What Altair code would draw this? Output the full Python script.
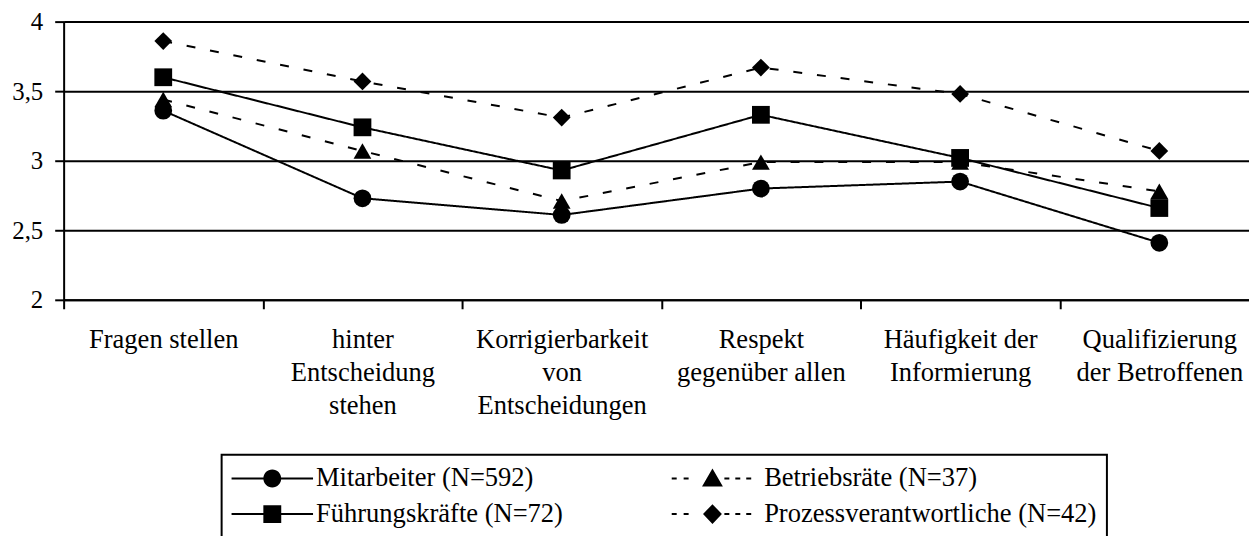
import altair as alt
import pandas as pd

# ---- data ----
categories = [
    "Fragen stellen",
    "hinter\nEntscheidung\nstehen",
    "Korrigierbarkeit\nvon\nEntscheidungen",
    "Respekt\ngegenüber allen",
    "Häufigkeit der\nInformierung",
    "Qualifizierung\nder Betroffenen",
]

series = [
    "Mitarbeiter (N=592)",
    "Betriebsräte (N=37)",
    "Führungskräfte (N=72)",
    "Prozessverantwortliche (N=42)",
]

mitarbeiter = [3.36, 2.73, 2.61, 2.80, 2.85, 2.41]
betriebsraete = [3.44, 3.07, 2.71, 2.99, 2.99, 2.78]
fuehrungskraefte = [3.60, 3.24, 2.93, 3.33, 3.02, 2.66]
prozessverantwortliche = [3.86, 3.57, 3.31, 3.67, 3.48, 3.07]

y_ticks = [2, 2.5, 3, 3.5, 4]

# ---- styles ----
FONT = "Liberation Serif, Times New Roman, Tinos, Nimbus Roman, DejaVu Serif, serif"
FS = 26.7
marker_shapes = ["circle", "triangle-up", "square", "diamond"]
dash_patterns = [[1, 0], [9, 15], [1, 0], [9, 15]]


def _bars(spans):
    return "".join(f"M{a},-1L{b},-1L{b},1L{a},1Z" for a, b in spans)


_solid = _bars([(-41, -8), (8, 41)])
_dashed = _bars([(-49, -44), (-37, -32), (4, 9), (15, 20), (26, 31)])
legend_symbols = [
    _solid + "M-9,0A9,9,0,1,1,9,0A9,9,0,1,1,-9,0Z",
    _dashed + "M-8,-10L2.5,8L-18.5,8Z",
    _solid + "M-9,-9L9,-9L9,9L-9,9Z",
    _dashed + "M-8,-10L1.5,0L-8,10L-17.5,0Z",
]

rows = []
for name, vals in zip(series, [mitarbeiter, betriebsraete, fuehrungskraefte, prozessverantwortliche]):
    for cat, v in zip(categories, vals):
        rows.append({"kategorie": cat, "gruppe": name, "wert": v})
df = pd.DataFrame(rows)

x_enc = alt.X(
    "kategorie:N",
    sort=categories,
    scale=alt.Scale(type="band", range=[0, 1203], paddingInner=0, paddingOuter=0),
    axis=alt.Axis(
        title=None,
        labelExpr="split(datum.label, '\\n')",
        labelFont=FONT,
        labelFontSize=FS,
        labelColor="black",
        labelAngle=0,
        labelAlign="center",
        labelBaseline="top",
        labelLineHeight=33,
        labelPadding=18,
        labelLimit=500,
        labelOverlap=False,
        tickBand="extent",
        tickSize=9,
        tickWidth=2,
        tickColor="black",
        domainColor="black",
        domainWidth=2,
        grid=False,
    ),
)

y_enc = alt.Y(
    "wert:Q",
    scale=alt.Scale(domain=[2, 4], nice=False, zero=False),
    axis=alt.Axis(
        title=None,
        values=y_ticks,
        labelExpr="replace(toString(datum.value), '.', ',')",
        labelFont=FONT,
        labelFontSize=25,
        labelColor="black",
        labelPadding=12,
        tickSize=9,
        tickWidth=2,
        tickColor="black",
        domainColor="black",
        domainWidth=2,
        grid=True,
        gridColor="black",
        gridWidth=2,
        gridOpacity=1,
    ),
)

base = alt.Chart(df)

lines = base.mark_line(color="black", strokeWidth=2).encode(
    x=x_enc,
    y=y_enc,
    strokeDash=alt.StrokeDash(
        "gruppe:N", scale=alt.Scale(domain=series, range=dash_patterns), legend=None
    ),
)

points = base.mark_point(filled=True, color="black", opacity=1, size=320).encode(
    x=x_enc,
    y=y_enc,
    shape=alt.Shape(
        "gruppe:N", scale=alt.Scale(domain=series, range=marker_shapes), legend=None
    ),
)

legend_layer = (
    base.transform_filter("false")
    .mark_point(filled=True, color="black", fill="black", opacity=1)
    .encode(
        x=x_enc,
        y=y_enc,
        shape=alt.Shape(
            "gruppe:N",
            scale=alt.Scale(domain=series, range=legend_symbols),
            legend=alt.Legend(
                title=None,
                orient="none",
                direction="horizontal",
                legendX=159,
                legendY=436,
                columns=2,
                symbolSize=4,
                symbolOffset=27.65,
                labelOffset=30.65,
                symbolFillColor="black",
                symbolStrokeWidth=0,
                symbolOpacity=1,
                labelFont=FONT,
                labelFontSize=FS,
                labelColor="black",
                labelLimit=600,
                rowPadding=8.3,
                columnPadding=109,
                padding=10,
                strokeColor="black",
            ),
        ),
    )
)

chart = (
    alt.layer(lines, points, legend_layer)
    .resolve_scale(shape="independent")
    .properties(
        width=1193,
        height=280,
        padding={"left": 56, "top": 12, "right": 0, "bottom": 236},
        autosize=alt.AutoSizeParams(type="none"),
        background="white",
    )
    .configure_view(stroke=None)
    .configure_legend(strokeWidth=2)
)

chart.save("out.html", embed_options={"renderer": "svg", "actions": False})
